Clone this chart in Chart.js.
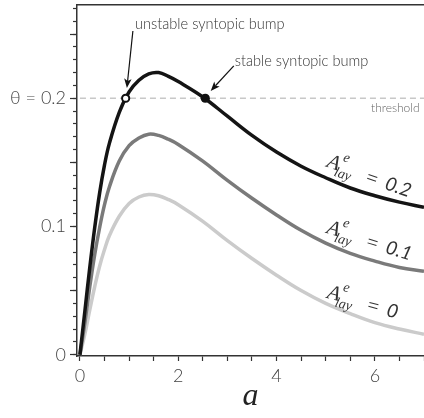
<!DOCTYPE html>
<html>
<head>
<meta charset="utf-8">
<script src="https://cdn.jsdelivr.net/npm/chart.js@4.4.1/dist/chart.umd.min.js"></script>
<style>
  html, body { margin: 0; padding: 0; background: #fff; }
  canvas { display: block; }
</style>
</head>
<body>
<canvas id="chart" width="424" height="418"></canvas>
<script>
// values
const aValues   = [0, 0.1, 0.2, 0.3, 0.4, 0.5, 0.6, 0.8, 1.0, 1.2, 1.4, 1.6, 1.8, 2.0, 2.5, 3.0, 3.5, 4.0, 4.5, 5.0, 5.5, 6.0, 6.5, 7.0];
const bumpLay02 = [0, 0.034, 0.068, 0.099, 0.126, 0.148, 0.165, 0.189, 0.205, 0.214, 0.219, 0.220, 0.217, 0.213, 0.201, 0.186, 0.171, 0.158, 0.147, 0.138, 0.130, 0.124, 0.119, 0.115];
const bumpLay01 = [0, 0.025, 0.053, 0.078, 0.099, 0.117, 0.131, 0.151, 0.163, 0.169, 0.172, 0.171, 0.168, 0.164, 0.151, 0.136, 0.122, 0.109, 0.097, 0.087, 0.079, 0.073, 0.068, 0.065];
const bumpLay00 = [0, 0.016, 0.035, 0.053, 0.069, 0.082, 0.093, 0.108, 0.118, 0.123, 0.125, 0.124, 0.121, 0.117, 0.104, 0.089, 0.075, 0.062, 0.050, 0.040, 0.032, 0.025, 0.020, 0.016];
const threshold = 0.2;
const unstableBump = { x: 0.93, y: 0.2 };
const stableBump = { x: 2.55, y: 0.2 };

const xTicks = [0, 0.5, 1, 1.5, 2, 2.5, 3, 3.5, 4, 4.5, 5, 5.5, 6, 6.5, 7];
const xTickLabels = [0, 2, 4, 6];
const yMajorTicks = [0, 0.05, 0.1, 0.15, 0.2, 0.25];
const yMinorTicks = [0, 0.01, 0.02, 0.03, 0.04, 0.05, 0.06, 0.07, 0.08, 0.09, 0.1, 0.11, 0.12, 0.13, 0.14,
                     0.15, 0.16, 0.17, 0.18, 0.19, 0.2, 0.21, 0.22, 0.23, 0.24, 0.25, 0.26, 0.27];
const yTickLabels = { '0': '0', '0.1': '0.1', '0.2': 'θ = 0.2' };

const toPoints = ys => aValues.map((a, i) => ({ x: a, y: ys[i] }));

const SANS = 'Lato, "Open Sans", sans-serif';
const SERIF = '"Liberation Serif", "DejaVu Serif", serif';
const AXIS = '#333';

// annotation text and arrows, placed in data units
const notes = [
  { text: 'unstable syntopic bump', x: 1.12, y: 0.2579, size: 14.6, color: '#333', align: 'left' },
  { text: 'stable syntopic bump', x: 3.15, y: 0.229, size: 14.6, color: '#333', align: 'left' },
  { text: 'threshold', x: 6.91, y: 0.1924, size: 12, color: '#666', align: 'right' }
];
const arrows = [
  { from: [1.077, 0.2524], to: [0.955, 0.208] },
  { from: [3.13, 0.2252], to: [2.66, 0.2057] }
];
const curveLabels = [
  { value: '0.2', x: 5.0, y: 0.1467, angle: 19 },
  { value: '0.1', x: 5.0, y: 0.0951, angle: 17 },
  { value: '0', x: 5.01, y: 0.0444, angle: 15 }
];

function drawArrow(ctx, x1, y1, x2, y2) {
  const ang = Math.atan2(y2 - y1, x2 - x1);
  const len = 10, back = 7, spread = 0.38;
  ctx.save();
  ctx.strokeStyle = '#111';
  ctx.fillStyle = '#111';
  ctx.lineWidth = 1.2;
  ctx.beginPath();
  ctx.moveTo(x1, y1);
  ctx.lineTo(x2 - back * Math.cos(ang), y2 - back * Math.sin(ang));
  ctx.stroke();
  ctx.beginPath();
  ctx.moveTo(x2, y2);
  ctx.lineTo(x2 - len * Math.cos(ang - spread), y2 - len * Math.sin(ang - spread));
  ctx.lineTo(x2 - back * Math.cos(ang), y2 - back * Math.sin(ang));
  ctx.lineTo(x2 - len * Math.cos(ang + spread), y2 - len * Math.sin(ang + spread));
  ctx.closePath();
  ctx.fill();
  ctx.restore();
}

function drawCurveLabel(ctx, px, py, angle, value) {
  ctx.save();
  ctx.translate(px, py);
  ctx.rotate(angle * Math.PI / 180);
  ctx.fillStyle = '#333';
  ctx.textAlign = 'left';
  ctx.textBaseline = 'alphabetic';
  ctx.font = 'italic 21px ' + SERIF;
  ctx.fillText('A', 0, 0);
  ctx.font = 'italic 14px ' + SERIF;
  ctx.fillText('e', 14, -11);
  ctx.fillText('lay', 10, 6);
  ctx.font = '20px ' + SERIF;
  ctx.fillText('=', 42, 2);
  ctx.font = 'italic 19px ' + SANS;
  ctx.fillText(value, 62, 2);
  ctx.restore();
}

const annotationPlugin = {
  id: 'annotations',
  afterDatasetsDraw(chart) {
    const { ctx, scales: { x, y } } = chart;
    arrows.forEach(ar => {
      drawArrow(ctx, x.getPixelForValue(ar.from[0]), y.getPixelForValue(ar.from[1]),
                x.getPixelForValue(ar.to[0]), y.getPixelForValue(ar.to[1]));
    });
    notes.forEach(n => {
      ctx.save();
      ctx.font = '300 ' + n.size + 'px ' + SANS;
      ctx.fillStyle = n.color;
      ctx.textAlign = n.align;
      ctx.textBaseline = 'middle';
      ctx.fillText(n.text, x.getPixelForValue(n.x), y.getPixelForValue(n.y));
      ctx.restore();
    });
    curveLabels.forEach(c => {
      drawCurveLabel(ctx, x.getPixelForValue(c.x), y.getPixelForValue(c.y), c.angle, c.value);
    });
  }
};

const curveStyle = { borderWidth: 3.5, pointRadius: 0, fill: false, tension: 0.4 };

const fitHorizontal = h => axis => { axis.height = h; axis.paddingLeft = 0; axis.paddingRight = 0; };
const fitVertical = w => axis => { axis.width = w; axis.paddingTop = 0; axis.paddingBottom = 0; };

new Chart(document.getElementById('chart'), {
  type: 'line',
  data: {
    datasets: [
      { type: 'scatter', data: [unstableBump], pointRadius: 3.6, pointBorderWidth: 2,
        pointBackgroundColor: '#fff', pointBorderColor: '#111', order: 0 },
      { type: 'scatter', data: [stableBump], pointRadius: 4.6, pointBorderWidth: 0,
        pointBackgroundColor: '#111', pointBorderColor: '#111', order: 0 },
      { label: 'A = 0.2', data: toPoints(bumpLay02), borderColor: '#141414', order: 1, ...curveStyle },
      { label: 'A = 0.1', data: toPoints(bumpLay01), borderColor: '#7a7a7a', order: 2, ...curveStyle },
      { label: 'A = 0', data: toPoints(bumpLay00), borderColor: '#cbcbcb', order: 3, ...curveStyle },
      { label: 'threshold', data: [{ x: 0, y: threshold }, { x: 7, y: threshold }],
        borderColor: '#c8c8c8', borderWidth: 1.5, borderDash: [6, 4], pointRadius: 0, order: 4 }
    ]
  },
  options: {
    responsive: false,
    animation: false,
    layout: { padding: 0, autoPadding: false },
    plugins: { legend: { display: false }, tooltip: { enabled: false } },
    scales: {
      x: {
        type: 'linear', position: 'bottom', min: -0.06, max: 7,
        afterBuildTicks: axis => { axis.ticks = xTicks.map(v => ({ value: v })); },
        afterFit: fitHorizontal(62),
        grid: { display: true, drawOnChartArea: false, drawTicks: true, tickLength: 5, tickColor: AXIS, tickWidth: 1.2 },
        border: { display: true, color: AXIS, width: 1.5 },
        ticks: {
          autoSkip: false, maxRotation: 0, padding: 4, color: '#444',
          font: { family: SANS, size: 18, weight: '300' },
          callback: v => xTickLabels.includes(v) ? String(v) : ''
        },
        title: { display: true, text: 'a', color: '#222', padding: { top: 0, bottom: 2 },
                 font: { family: SERIF, size: 32, style: 'italic' } }
      },
      xTop: {
        type: 'linear', position: 'top', min: -0.06, max: 7,
        afterFit: fitHorizontal(5),
        grid: { display: false },
        ticks: { display: false },
        border: { display: true, color: AXIS, width: 1.5 }
      },
      y: {
        type: 'linear', position: 'left', min: -0.001, max: 0.2727, weight: 1,
        afterBuildTicks: axis => { axis.ticks = yMajorTicks.map(v => ({ value: v })); },
        afterFit: fitVertical(77),
        grid: { display: true, drawOnChartArea: false, drawTicks: true, tickLength: 7, tickColor: AXIS, tickWidth: 1.2 },
        border: { display: true, color: AXIS, width: 1.5 },
        ticks: {
          autoSkip: false, padding: 4, color: '#444',
          font: { family: SANS, size: 18, weight: '300' },
          callback: v => yTickLabels[String(v)] || ''
        }
      },
      yMinor: {
        type: 'linear', position: 'left', min: -0.001, max: 0.2727, weight: 0,
        afterBuildTicks: axis => { axis.ticks = yMinorTicks.map(v => ({ value: v })); },
        afterFit: fitVertical(0),
        grid: { display: true, drawOnChartArea: false, drawTicks: true, tickLength: 4, tickColor: AXIS, tickWidth: 1.2 },
        border: { display: false },
        ticks: { display: false, autoSkip: false }
      }
    }
  },
  plugins: [annotationPlugin]
});
</script>
</body>
</html>
